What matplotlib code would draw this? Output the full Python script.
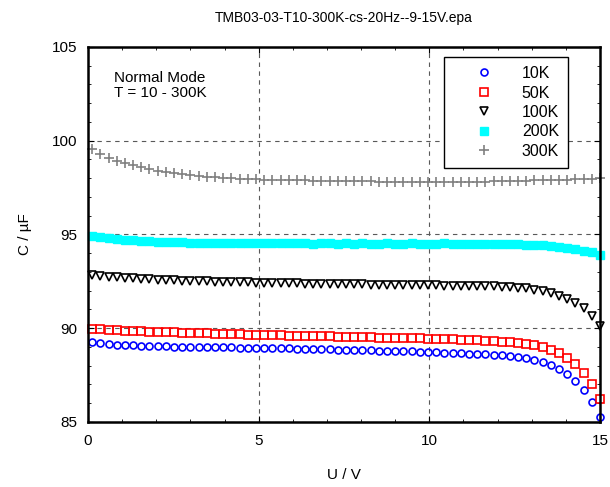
import matplotlib
matplotlib.use("Agg")
import matplotlib.pyplot as plt
from matplotlib.ticker import MultipleLocator
import numpy as np

plt.rcParams["font.family"] = ["Liberation Sans", "DejaVu Sans"]

# bias voltage grid (sweep -9..15 V in 0.24 V steps, only 0..15 shown)
U = np.round(np.arange(0.12, 15.001, 0.24), 2)

C_10K = [89.25, 89.20, 89.16, 89.13, 89.10, 89.08, 89.06, 89.05, 89.04, 89.03,
         89.02, 89.01, 89.00, 89.00, 88.99, 88.99, 88.98, 88.98, 88.97, 88.97,
         88.96, 88.95, 88.94, 88.93, 88.92, 88.91, 88.90, 88.89, 88.88, 88.87,
         88.86, 88.85, 88.84, 88.83, 88.82, 88.81, 88.80, 88.79, 88.78, 88.77,
         88.75, 88.73, 88.72, 88.70, 88.68, 88.66, 88.64, 88.62, 88.60, 88.58,
         88.55, 88.51, 88.46, 88.39, 88.30, 88.18, 88.02, 87.83, 87.57, 87.20,
         86.71, 86.08, 85.25]

C_50K = [89.98, 89.94, 89.91, 89.89, 89.87, 89.85, 89.83, 89.82, 89.80, 89.79,
         89.78, 89.76, 89.75, 89.74, 89.72, 89.71, 89.69, 89.68, 89.67, 89.66,
         89.65, 89.64, 89.63, 89.62, 89.61, 89.60, 89.59, 89.58, 89.57, 89.56,
         89.55, 89.54, 89.53, 89.52, 89.51, 89.50, 89.49, 89.48, 89.47, 89.47,
         89.46, 89.45, 89.44, 89.43, 89.41, 89.39, 89.37, 89.35, 89.33, 89.31,
         89.28, 89.25, 89.20, 89.15, 89.08, 88.98, 88.86, 88.68, 88.43, 88.08,
         87.63, 87.03, 86.21]

C_100K = [92.82, 92.78, 92.75, 92.72, 92.69, 92.66, 92.64, 92.61, 92.59, 92.57,
          92.56, 92.54, 92.52, 92.51, 92.50, 92.48, 92.47, 92.46, 92.45, 92.44,
          92.43, 92.42, 92.41, 92.40, 92.40, 92.39, 92.38, 92.38, 92.37, 92.36,
          92.36, 92.35, 92.34, 92.34, 92.33, 92.32, 92.32, 92.31, 92.30, 92.30,
          92.29, 92.29, 92.28, 92.27, 92.27, 92.26, 92.26, 92.25, 92.24, 92.23,
          92.21, 92.18, 92.16, 92.12, 92.06, 91.99, 91.88, 91.74, 91.58, 91.35,
          91.06, 90.67, 90.14]

C_200K = [94.92, 94.85, 94.80, 94.76, 94.72, 94.69, 94.66, 94.64, 94.62, 94.60,
          94.59, 94.58, 94.57, 94.56, 94.55, 94.55, 94.54, 94.54, 94.53, 94.53,
          94.53, 94.52, 94.52, 94.52, 94.52, 94.52, 94.52, 94.51, 94.52, 94.52,
          94.51, 94.52, 94.51, 94.52, 94.51, 94.51, 94.52, 94.51, 94.51, 94.52,
          94.51, 94.51, 94.51, 94.52, 94.51, 94.51, 94.51, 94.51, 94.51, 94.51,
          94.50, 94.49, 94.48, 94.46, 94.44, 94.42, 94.39, 94.35, 94.30, 94.23,
          94.14, 94.05, 93.89]

C_300K = [99.58, 99.30, 99.10, 98.94, 98.81, 98.70, 98.59, 98.49, 98.40, 98.33,
          98.27, 98.22, 98.17, 98.13, 98.09, 98.06, 98.03, 98.00, 97.98, 97.96,
          97.94, 97.93, 97.92, 97.91, 97.90, 97.89, 97.88, 97.87, 97.86, 97.86,
          97.85, 97.84, 97.84, 97.83, 97.83, 97.82, 97.82, 97.81, 97.81, 97.81,
          97.80, 97.80, 97.80, 97.80, 97.80, 97.81, 97.81, 97.82, 97.82, 97.83,
          97.84, 97.85, 97.86, 97.87, 97.88, 97.89, 97.90, 97.92, 97.93, 97.95,
          97.96, 97.98, 98.00]

fig = plt.figure(figsize=(6.1, 4.87), dpi=100)
ax = fig.add_axes([0.1443, 0.1335, 0.8393, 0.77])

ax.plot(U, C_10K, "o", mfc="none", mec="blue", ms=5, mew=1.2, label="10K", clip_on=False)
ax.plot(U, C_50K, "s", mfc="none", mec="red", ms=6, mew=1.2, label="50K", clip_on=False)
ax.plot(U, C_100K, "v", mfc="none", mec="black", ms=6, mew=1.2, label="100K", clip_on=False)
ax.plot(U, C_200K, "s", mfc="cyan", mec="cyan", ms=5.5, label="200K", clip_on=False)
ax.plot(U, C_300K, "+", color="0.5", ms=7, mew=1.2, label="300K", clip_on=False)

ax.set_xlim(0, 15)
ax.set_ylim(85, 105)
ax.set_xticks([0, 5, 10, 15])
ax.set_yticks([85, 90, 95, 100, 105])
ax.xaxis.set_minor_locator(MultipleLocator(1))
ax.yaxis.set_minor_locator(MultipleLocator(1))
ax.tick_params(which="both", direction="in", top=True, right=True, labelsize=11)
ax.tick_params(which="major", length=4, width=0.8)
ax.tick_params(which="minor", length=2.5, width=0.6)
ax.tick_params(axis="x", pad=9)
ax.tick_params(axis="y", pad=7.8)
for s in ax.spines.values():
    s.set_linewidth(1.8)
ax.grid(True, which="major", linestyle=(0, (4, 4)), color="0.35", linewidth=0.8)
ax.set_axisbelow(True)

ax.set_xlabel("U / V", fontsize=11, labelpad=14)
ax.set_ylabel("C / µF", fontsize=11, labelpad=14)
ax.set_title("TMB03-03-T10-300K-cs-20Hz--9-15V.epa", fontsize=10, pad=18)

ax.text(0.051, 0.937, "Normal Mode\nT = 10 - 300K", transform=ax.transAxes,
        fontsize=11, va="top", ha="left", linespacing=1.13)

leg = ax.legend(loc="upper right", bbox_to_anchor=(0.9375, 0.973), numpoints=1,
                fancybox=False, edgecolor="black", framealpha=1, fontsize=11.5,
                handlelength=3.9, handletextpad=0.44, labelspacing=0.28,
                borderpad=0.56, borderaxespad=0)
leg.get_frame().set_linewidth(1.0)

fig.savefig("out.png", dpi=100)
